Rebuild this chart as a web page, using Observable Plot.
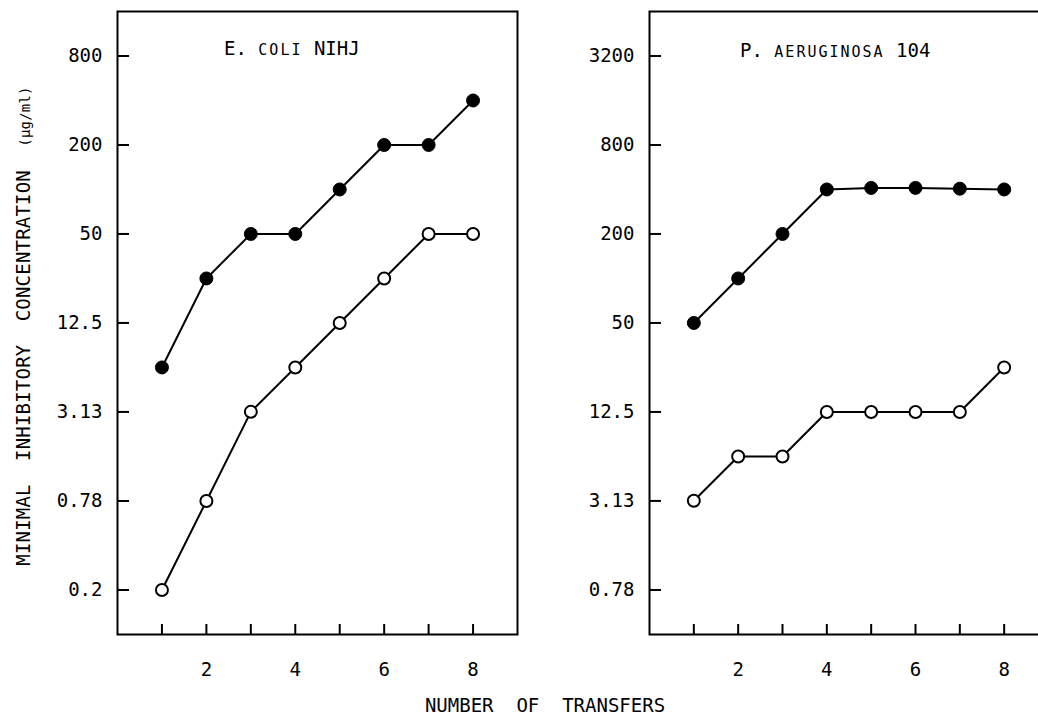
<!DOCTYPE html>
<html><head><meta charset="utf-8">
<script src="https://cdn.jsdelivr.net/npm/d3@7"></script>
<script src="https://cdn.jsdelivr.net/npm/@observablehq/plot@0.6"></script>
<style>
html,body{margin:0;padding:0;background:#fff;overflow:hidden;}
#wrap{position:relative;width:1038px;height:717px;overflow:hidden;font-family:"DejaVu Sans Mono",monospace;color:#000;background:#fff;}
#wrap svg{position:absolute;top:0;}
.ylab{position:absolute;left:23px;top:326px;transform:translate(-50%,-50%) rotate(-90deg);white-space:pre;font-size:19px;letter-spacing:0.2px;}
.ylab .unit{font-size:14px;}
.xlab{position:absolute;left:545px;top:705px;transform:translate(-50%,-50%);white-space:pre;font-size:19px;}
.ptitle{position:absolute;white-space:pre;font-size:19px;line-height:1;transform:translateY(-50%);}
.ptitle .sc{font-size:15px;text-transform:uppercase;letter-spacing:2px;}
</style></head>
<body><div id="wrap"></div>
<script>
// ---- data ----
const transfers = [1, 2, 3, 4, 5, 6, 7, 8];
const xTicks = [1, 2, 3, 4, 5, 6, 7, 8];
const xTickLabels = [2, 4, 6, 8];

const ecoliTitle = ["E. ", "coli", " NIHJ"];
const ecoliYTicks = [0.195, 0.78, 3.125, 12.5, 50, 200, 800];
const ecoliYLabels = ["0.2", "0.78", "3.13", "12.5", "50", "200", "800"];
const ecoliFilled = [6.25, 25, 50, 50, 100, 200, 200, 400];
const ecoliOpen = [0.195, 0.78, 3.13, 6.25, 12.5, 25, 50, 50];

const paerTitle = ["P. ", "aeruginosa", " 104"];
const paerYTicks = [0.78, 3.125, 12.5, 50, 200, 800, 3200];
const paerYLabels = ["0.78", "3.13", "12.5", "50", "200", "800", "3200"];
const paerFilled = [50, 100, 200, 400, 410, 410, 405, 400];
const paerOpen = [3.13, 6.25, 6.25, 12.5, 12.5, 12.5, 12.5, 25];

const yAxisLabel = "MINIMAL  INHIBITORY  CONCENTRATION  ";
const yAxisUnit = "(\u00b5g/ml)";
const xAxisLabel = "NUMBER  OF  TRANSFERS";

// ---- drawing ----
const H = 717, MT = 11, MB = 83;
const yTickLen = 12, xTickLen = 10;

function panel({yTicks, yLabels, filled, open, width, marginLeft, marginRight}) {
  const F = transfers.map((t, i) => ({t, v: filled[i]}));
  const O = transfers.map((t, i) => ({t, v: open[i]}));
  const frameW = width - marginLeft - marginRight;
  const frameH = H - MT - MB;
  return Plot.plot({
    width, height: H,
    marginLeft, marginRight, marginTop: MT, marginBottom: MB,
    style: {fontFamily: '"DejaVu Sans Mono", monospace', fontSize: "19px", color: "#000", background: "transparent", overflow: "visible"},
    x: {domain: [0, 9], axis: null},
    y: {type: "log", domain: [yTicks[0] / 2, yTicks[yTicks.length - 1] * 2], axis: null},
    marks: [
      Plot.frame({stroke: "#000", strokeWidth: 2}),
      // y ticks (inward) and labels
      Plot.tickY(yTicks, {y: d => d, insetRight: frameW - yTickLen, stroke: "#000", strokeWidth: 2}),
      Plot.text(yTicks, {y: d => d, text: (d, i) => yLabels[i], frameAnchor: "left", dx: -15,
        textAnchor: "end", lineAnchor: "middle", fill: "#000", fontSize: 19}),
      // x ticks (inward) and labels
      Plot.tickX(xTicks, {x: d => d, insetTop: frameH - xTickLen, stroke: "#000", strokeWidth: 2}),
      Plot.text(xTickLabels, {x: d => d, text: d => String(d), frameAnchor: "bottom", dy: 35,
        textAnchor: "middle", lineAnchor: "middle", fill: "#000", fontSize: 19}),
      // series
      Plot.line(F, {x: "t", y: "v", stroke: "#000", strokeWidth: 2}),
      Plot.line(O, {x: "t", y: "v", stroke: "#000", strokeWidth: 2}),
      Plot.dot(F, {x: "t", y: "v", r: 6.5, fill: "#000", stroke: "#000", strokeWidth: 1}),
      Plot.dot(O, {x: "t", y: "v", r: 6, fill: "#fff", stroke: "#000", strokeWidth: 2})
    ]
  });
}

function title(parts, x, y) {
  const d = document.createElement("div");
  d.className = "ptitle";
  d.style.left = x + "px";
  d.style.top = y + "px";
  d.appendChild(document.createTextNode(parts[0]));
  const s = document.createElement("span");
  s.className = "sc";
  s.textContent = parts[1];
  d.appendChild(s);
  d.appendChild(document.createTextNode(parts[2]));
  return d;
}

const wrap = document.getElementById("wrap");
const left = panel({yTicks: ecoliYTicks, yLabels: ecoliYLabels, filled: ecoliFilled, open: ecoliOpen,
  width: 530, marginLeft: 117, marginRight: 13});
left.style.left = "0px";
wrap.appendChild(left);

const right = panel({yTicks: paerYTicks, yLabels: paerYLabels, filled: paerFilled, open: paerOpen,
  width: 530, marginLeft: 116, marginRight: 15});
right.style.left = "533px";
wrap.appendChild(right);

wrap.appendChild(title(ecoliTitle, 224, 48));
wrap.appendChild(title(paerTitle, 740, 50));

const yl = document.createElement("div");
yl.className = "ylab";
yl.textContent = yAxisLabel;
const unit = document.createElement("span");
unit.className = "unit";
unit.textContent = yAxisUnit;
yl.appendChild(unit);
wrap.appendChild(yl);

const xl = document.createElement("div");
xl.className = "xlab";
xl.textContent = xAxisLabel;
wrap.appendChild(xl);
</script>
</body></html>
